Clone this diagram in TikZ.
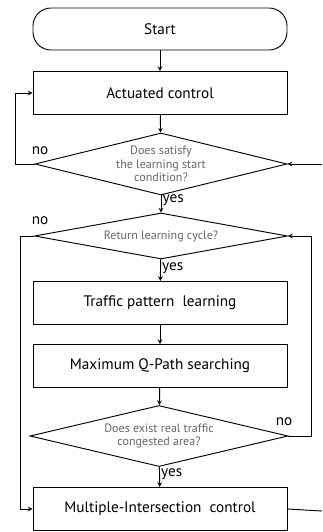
\documentclass[tikz,border=0pt]{standalone}
\usepackage{fontspec}
\setmainfont{PT Sans}
\usetikzlibrary{shapes.geometric}

\begin{document}
\begin{tikzpicture}[
    x=0.03cm, y=-0.03cm,
    >=stealth,
    line width=0.8pt,
    every node/.style={font=\fontsize{13}{15}\selectfont},
    blk/.style={draw, minimum width=254*0.03cm, minimum height=43*0.03cm, inner sep=0pt},
    term/.style={draw, rounded corners=18*0.03cm, minimum width=254*0.03cm,
                 minimum height=42*0.03cm, inner sep=0pt},
    dec/.style={draw, diamond, inner sep=0pt, align=center, text=black!60,
                font=\fontsize{10.3}{11.5}\selectfont},
    lbl/.style={font=\fontsize{13}{15}\selectfont, inner sep=1pt},
  ]
    \useasboundingbox (0,0) rectangle (322,532);

    % blocks
    \node[term] (start)   at (160, 29)  {Start};
    \node[blk]  (act)     at (160, 93)  {Actuated control};
    \node[dec, aspect=3.9, minimum width=252*0.03cm, minimum height=62*0.03cm]
                (cond)    at (161,164)  {Does satisfy\\the learning start\\condition?};
    \node[dec, aspect=5.5, minimum width=253*0.03cm, minimum height=46*0.03cm]
                (cycle)   at (161,236)  {Return learning cycle?};
    \node[blk]  (learn)   at (160,303)  {Traffic pattern \ learning};
    \node[blk]  (qpath)   at (160,366)  {Maximum Q-Path searching};
    \node[dec, aspect=4.2, minimum width=258*0.03cm, minimum height=61*0.03cm]
                (cong)    at (159,436)  {Does exist real traffic\\congested area?};
    \node[blk]  (multi)   at (160,509)  {Multiple-Intersection \ control};

    % free ends at the right border
    \coordinate (inR)  at (322,164);
    \coordinate (outR) at (322,511);

    % main flow
    \draw[->] (start) -- (act);
    \draw[->] (act)   -- (cond);
    \draw[->] (cond)  -- node[lbl, right, pos=0.3] {yes} (cycle);
    \draw[->] (cycle) -- node[lbl, right, pos=0.4] {yes} (learn);
    \draw[->] (learn) -- (qpath);
    \draw[->] (qpath) -- (cong);
    \draw[->] (cong)  -- node[lbl, right, pos=0.35] {yes} (multi);

    % loops
    \draw[->] (cond.west) -- (15,164) -- (15,93) -- (act.west);
    \node[lbl] (no1) at (40,151) {no};
    \draw[->] (cycle.west) -- (20,236) -- (20,509) -- (multi.west);
    \node[lbl] (no2) at (40,221) {no};
    \draw[->] (cong.east) -- (311,436) -- (311,236) -- (cycle.east);
    \node[lbl] (no3) at (284,422) {no};
    \draw[->] (inR) -- (cond.east);
    \draw (multi.east) -- (outR);
\end{tikzpicture}
\end{document}
